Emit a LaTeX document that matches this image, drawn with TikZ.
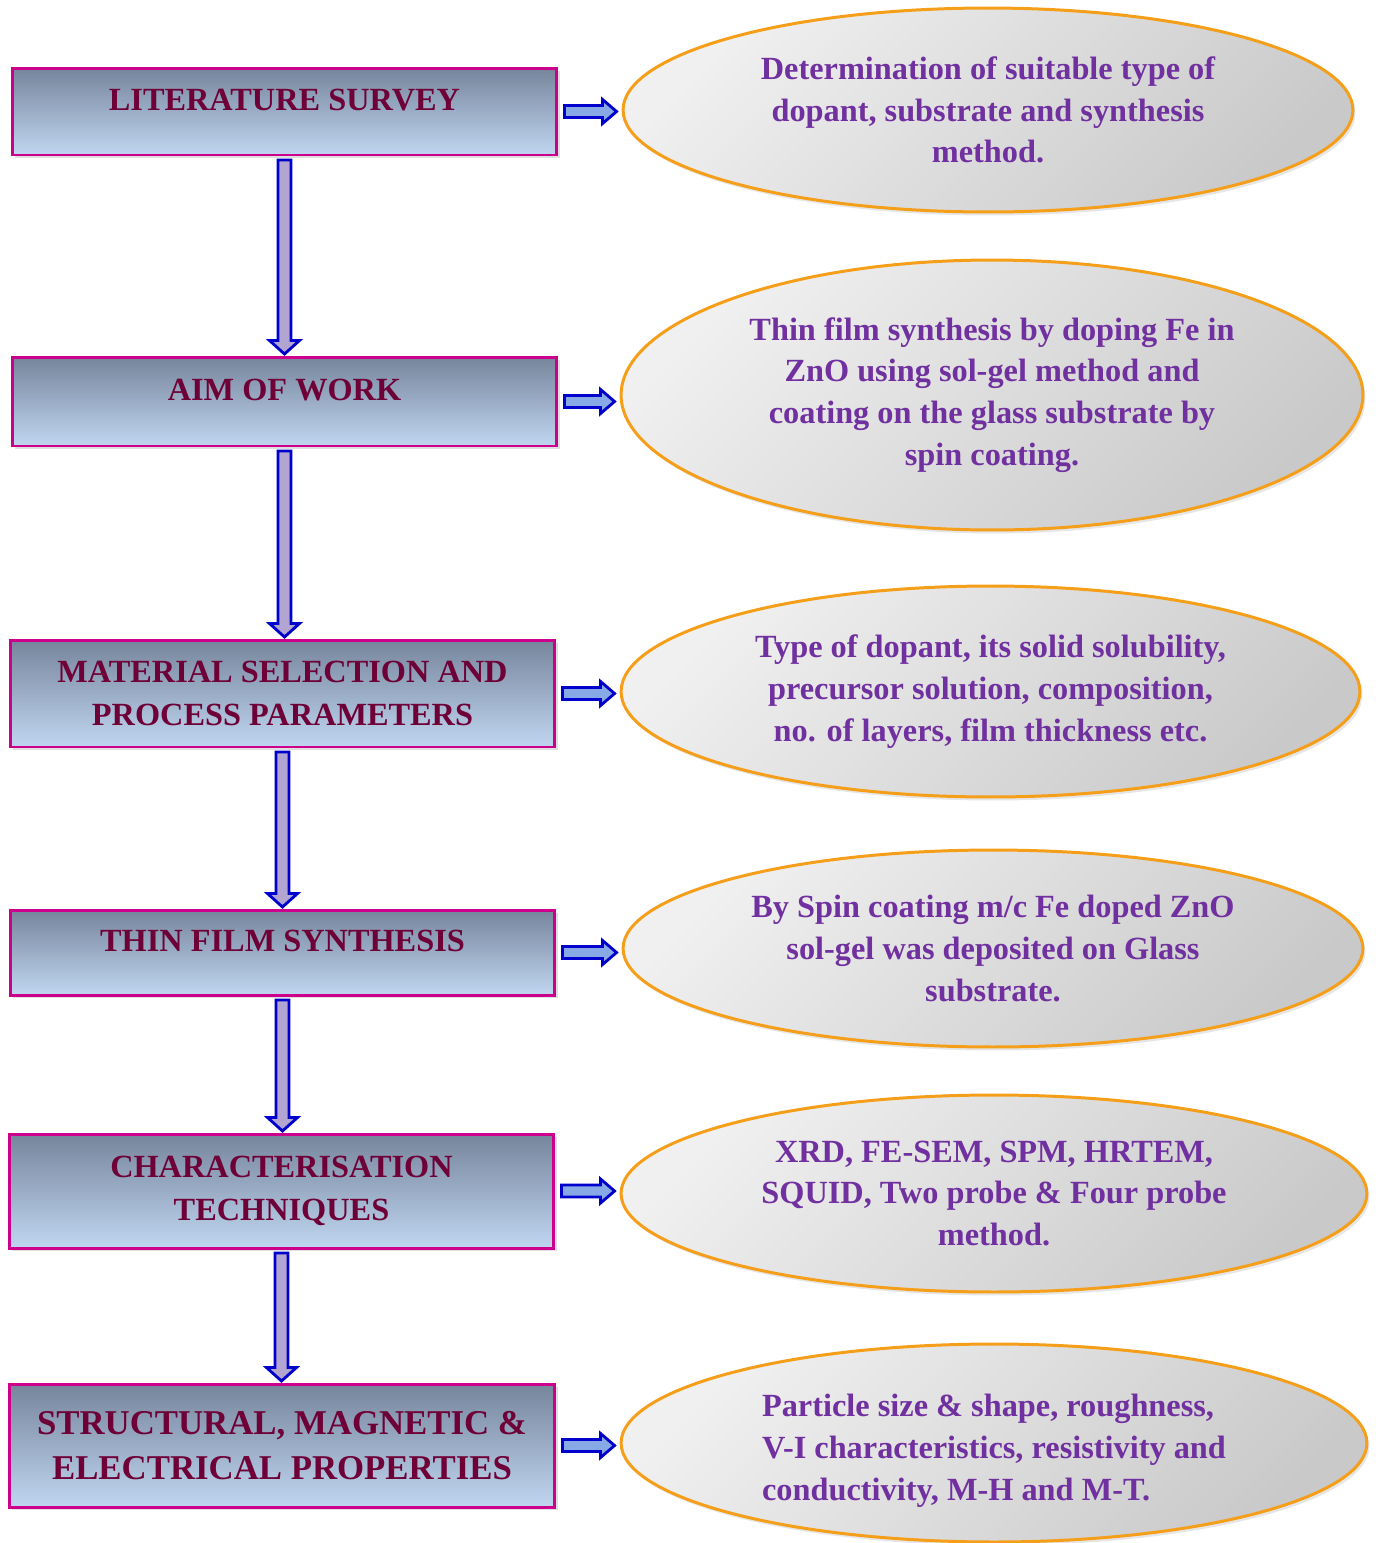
\documentclass[tikz,border=0pt]{standalone}
\usepackage{fontspec}
\setmainfont{Liberation Serif}
\usetikzlibrary{shapes.geometric, calc, shadows}
\definecolor{boxtop}{RGB}{118,133,156}
\definecolor{boxbot}{RGB}{192,214,240}
\definecolor{boxline}{RGB}{205,0,140}
\definecolor{boxtext}{RGB}{110,0,55}
\definecolor{noteline}{RGB}{245,158,25}
\definecolor{notetext}{RGB}{112,48,160}
\definecolor{arrowline}{RGB}{0,0,205}
\definecolor{downfill}{RGB}{178,165,210}
\definecolor{sidefill}{RGB}{135,170,230}
\tikzset{
  stepbox/.style={draw=boxline, line width=1.7pt, top color=boxtop, bottom color=boxbot,
    minimum width=10.9cm, inner sep=0pt, align=center, text=boxtext,
    font=\bfseries\fontsize{18.4}{24.4}\selectfont,
    drop shadow={opacity=0.25, shadow xshift=0.06cm, shadow yshift=-0.06cm}},
  oneline/.style={text depth=0.46cm},
  bigtext/.style={font=\bfseries\fontsize{19.8}{25.5}\selectfont},
  notebubble/.style={ellipse, draw=noteline, line width=1.7pt, inner sep=0pt,
    top color=gray!12, bottom color=gray!42, shading angle=45,
    align=center, text=notetext, font=\bfseries\fontsize{18.4}{23.8}\selectfont,
    drop shadow={opacity=0.2, shadow xshift=0.05cm, shadow yshift=-0.07cm}},
  downarrow/.style={draw=arrowline, fill=downfill, line width=1.6pt, line join=miter},
  sidearrow/.style={draw=arrowline, fill=sidefill, line width=1.6pt, line join=miter}
}
% hollow block arrow from one step down to the next
\newcommand{\downconn}[2]{%
  \draw[downarrow] let \p1=(#1.south), \p2=(#2.north) in
    (\x1-0.13cm,\y1-0.07cm) -- (\x1-0.13cm,\y2+0.3cm) -- (\x1-0.3cm,\y2+0.3cm)
    -- (\x1,\y2+0.03cm) -- (\x1+0.3cm,\y2+0.3cm) -- (\x1+0.13cm,\y2+0.3cm)
    -- (\x1+0.13cm,\y1-0.07cm) -- cycle;}
% hollow block arrow from a step to its note
\newcommand{\sideconn}[2]{%
  \draw[sidearrow] let \p1=(#1.east), \p2=(#2.west) in
    (\x1+0.12cm,\y1+0.12cm) -- (\x2-0.38cm,\y1+0.12cm) -- (\x2-0.38cm,\y1+0.24cm)
    -- (\x2-0.1cm,\y1) -- (\x2-0.38cm,\y1-0.24cm) -- (\x2-0.38cm,\y1-0.12cm)
    -- (\x1+0.12cm,\y1-0.12cm) -- cycle;}

\begin{document}
\begin{tikzpicture}[x=0.02cm, y=-0.02cm]
  \useasboundingbox (0,0) rectangle (1376,1543);
  % steps
  \node[stepbox, oneline, minimum height=1.74cm] (survey) at (284.5,111.5) {LITERATURE SURVEY};
  \node[stepbox, oneline, minimum height=1.78cm] (aim) at (284.5,401.5) {AIM OF WORK};
  \node[stepbox, minimum height=2.14cm] (material) at (282.5,693.5) {MATERIAL SELECTION AND\\PROCESS PARAMETERS};
  \node[stepbox, oneline, minimum height=1.70cm] (synthesis) at (282.5,952.5) {THIN FILM SYNTHESIS};
  \node[stepbox, minimum height=2.28cm] (charac) at (281.5,1191) {CHARACTERISATION\\TECHNIQUES};
  \node[stepbox, bigtext, minimum height=2.46cm, minimum width=10.92cm] (props) at (282,1445.5) {STRUCTURAL, MAGNETIC \&\\ELECTRICAL PROPERTIES};
  % notes
  \node[notebubble, minimum width=14.6cm, minimum height=4.08cm] (dopant) at (988,110)
    {Determination of suitable type of\\dopant, substrate and synthesis\\method.};
  \node[notebubble, minimum width=14.84cm, minimum height=5.4cm] (solgel) at (992,395)
    {Thin film synthesis by doping Fe in\\ZnO using sol-gel method and\\coating on the glass substrate by\\spin coating.};
  \node[notebubble, minimum width=14.78cm, minimum height=4.22cm] (params) at (990.5,691.5)
    {Type of dopant, its solid solubility,\\precursor solution, composition,\\no. of layers, film thickness etc.};
  \node[notebubble, minimum width=14.8cm, minimum height=3.94cm] (spin) at (993,948.5)
    {By Spin coating m/c Fe doped ZnO\\sol-gel was deposited on Glass\\substrate.};
  \node[notebubble, minimum width=14.92cm, minimum height=3.94cm] (tools) at (994,1193.5)
    {XRD, FE-SEM, SPM, HRTEM,\\SQUID, Two probe \& Four probe\\method.};
  \node[notebubble, align=left, minimum width=14.92cm, minimum height=3.96cm] (results) at (994,1443)
    {\rule{0pt}{0.75cm}Particle size \& shape, roughness,\\V-I characteristics, resistivity and\\conductivity, M-H and M-T.};
  % flow downwards
  \downconn{survey}{aim}
  \downconn{aim}{material}
  \downconn{material}{synthesis}
  \downconn{synthesis}{charac}
  \downconn{charac}{props}
  % steps to notes
  \sideconn{survey}{dopant}
  \sideconn{aim}{solgel}
  \sideconn{material}{params}
  \sideconn{synthesis}{spin}
  \sideconn{charac}{tools}
  \sideconn{props}{results}
\end{tikzpicture}
\end{document}
